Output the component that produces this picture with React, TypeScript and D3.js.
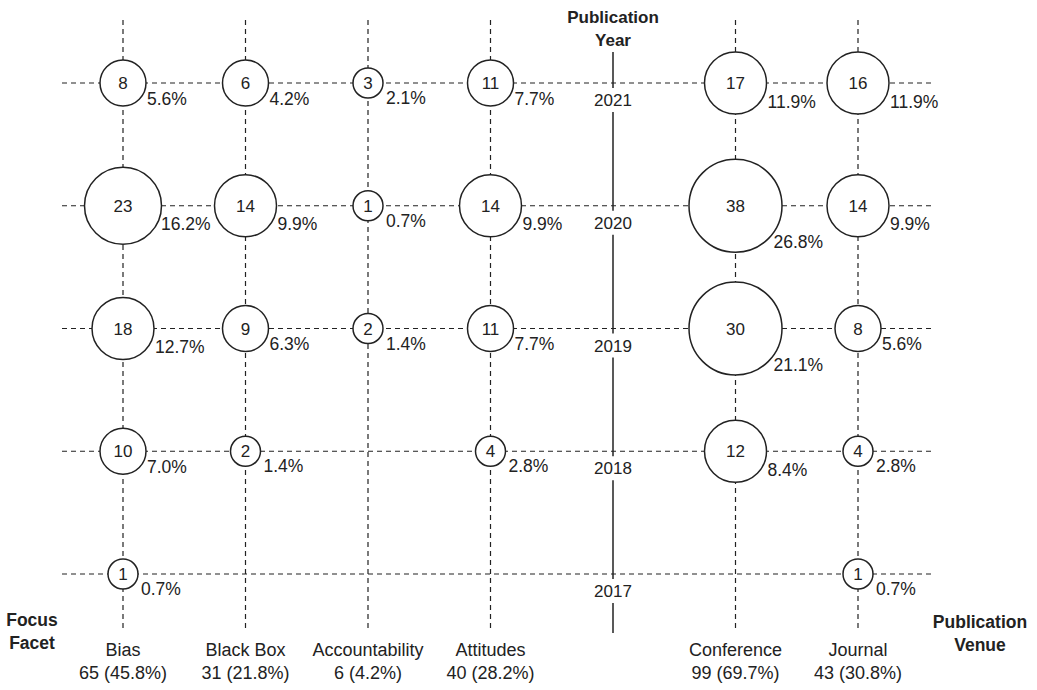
import React from 'react';
import * as d3 from 'd3';

// categories
const facets = ['Bias', 'Black Box', 'Accountability', 'Attitudes'];
const venues = ['Conference', 'Journal'];
const years = ['2021', '2020', '2019', '2018', '2017'];

// counts per column, top row = 2021 (null = no papers)
const biasCounts = [8, 23, 18, 10, 1];
const blackBoxCounts = [6, 14, 9, 2, null];
const accountabilityCounts = [3, 1, 2, null, null];
const attitudesCounts = [11, 14, 11, 4, null];
const conferenceCounts = [17, 38, 30, 12, null];
const journalCounts = [16, 14, 8, 4, 1];

// percentage labels as printed
const biasPct = ['5.6%', '16.2%', '12.7%', '7.0%', '0.7%'];
const blackBoxPct = ['4.2%', '9.9%', '6.3%', '1.4%', null];
const accountabilityPct = ['2.1%', '0.7%', '1.4%', null, null];
const attitudesPct = ['7.7%', '9.9%', '7.7%', '2.8%', null];
const conferencePct = ['11.9%', '26.8%', '21.1%', '8.4%', null];
const journalPct = ['11.9%', '9.9%', '5.6%', '2.8%', '0.7%'];

// column totals
const columnTotals = ['65 (45.8%)', '31 (21.8%)', '6 (4.2%)', '40 (28.2%)', '99 (69.7%)', '43 (30.8%)'];

const W = 1037;
const H = 690;
const FONT = '"Liberation Sans", Arial, Helvetica, sans-serif';
const INK = '#222';

const App: React.FC = () => {
  const columns = [...facets, ...venues];
  const countCols = [biasCounts, blackBoxCounts, accountabilityCounts, attitudesCounts, conferenceCounts, journalCounts];
  const pctCols = [biasPct, blackBoxPct, accountabilityPct, attitudesPct, conferencePct, journalPct];

  const x = d3.scalePoint<string>()
    .domain([...facets, 'Year', ...venues])
    .range([123, 858]);

  const y = d3.scalePoint<string>()
    .domain(years)
    .range([83, 574]);

  // bubble sizes are binned in the original
  const radii = [15, 23, 31, 38.5, 46.5];
  const r = d3.scaleThreshold<number, number>()
    .domain([5, 12, 20, 27])
    .range(radii);

  // where the % label sits relative to the bubble centre
  const labelDx = d3.scaleLinear().domain(radii).range([18, 24, 32, 38, 38]);
  const labelDy = d3.scaleLinear().domain(radii).range([14.5, 15, 18, 18, 36]);

  const yearX = x('Year') as number;
  const yTop = 20;
  const yBottom = 632;

  const cells: { col: string; year: string; v: number; pct: string }[] = [];
  columns.forEach((c, ci) => {
    years.forEach((yr, yi) => {
      const v = countCols[ci][yi];
      if (v != null) cells.push({ col: c, year: yr, v, pct: pctCols[ci][yi] as string });
    });
  });

  return (
    <svg width={W} height={H} style={{ position: 'absolute', left: 0, top: 0, background: '#fff' }}
      fontFamily={FONT}>
      {/* horizontal dashed grid */}
      {years.map(yr => (
        <line key={'h' + yr} x1={62} x2={932} y1={y(yr)} y2={y(yr)}
          stroke={INK} strokeWidth={1.2} strokeDasharray="5,4" />
      ))}
      {/* vertical dashed grid */}
      {columns.map(c => (
        <line key={'v' + c} x1={x(c)} x2={x(c)} y1={yTop} y2={yBottom}
          stroke={INK} strokeWidth={1.2} strokeDasharray="5,4" />
      ))}

      {/* year axis */}
      <line x1={yearX} x2={yearX} y1={52} y2={633} stroke={INK} strokeWidth={1.5} />
      {years.map(yr => (
        <g key={'yl' + yr}>
          <rect x={yearX - 26} y={(y(yr) as number) + 5} width={52} height={24} fill="#fff" />
          <text x={yearX} y={(y(yr) as number) + 23} textAnchor="middle" fontSize={17} fill={INK}>{yr}</text>
        </g>
      ))}
      <text x={yearX} y={23} textAnchor="middle" fontSize={17} fontWeight="bold" fill={INK}>Publication</text>
      <text x={yearX} y={46} textAnchor="middle" fontSize={17} fontWeight="bold" fill={INK}>Year</text>

      {/* bubbles */}
      {cells.map(d => {
        const cx = x(d.col) as number;
        const cy = y(d.year) as number;
        const rr = r(d.v);
        return (
          <g key={d.col + d.year}>
            <circle cx={cx} cy={cy} r={rr} fill="#fff" stroke={INK} strokeWidth={1.5} />
            <text x={cx} y={cy + 6} textAnchor="middle" fontSize={17} fill={INK}>{d.v}</text>
            <text x={cx + labelDx(rr)} y={cy + labelDy(rr) + 6.5} fontSize={17.5} fill={INK}>{d.pct}</text>
          </g>
        );
      })}

      {/* column labels */}
      {columns.map((c, i) => (
        <g key={'cl' + c}>
          <text x={x(c)} y={656} textAnchor="middle" fontSize={18} fill={INK}>{c}</text>
          <text x={x(c)} y={679} textAnchor="middle" fontSize={18} fill={INK}>{columnTotals[i]}</text>
        </g>
      ))}

      <text x={32} y={626} textAnchor="middle" fontSize={17.5} fontWeight="bold" fill={INK}>Focus</text>
      <text x={32} y={649} textAnchor="middle" fontSize={17.5} fontWeight="bold" fill={INK}>Facet</text>
      <text x={980} y={628} textAnchor="middle" fontSize={17.5} fontWeight="bold" fill={INK}>Publication</text>
      <text x={980} y={651} textAnchor="middle" fontSize={17.5} fontWeight="bold" fill={INK}>Venue</text>
    </svg>
  );
};

export default App;
